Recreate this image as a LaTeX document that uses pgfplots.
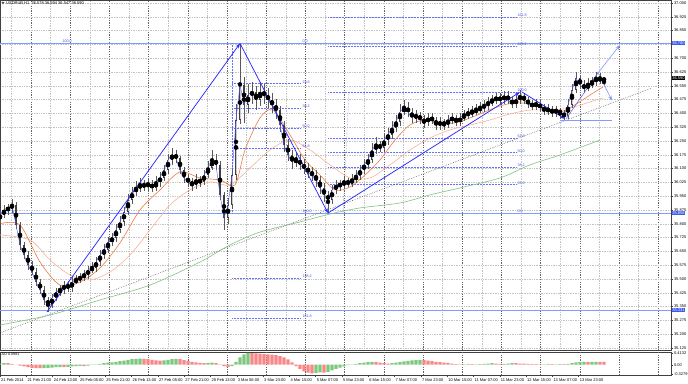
\documentclass[border=0pt]{standalone}
\usepackage{fontspec}
\setmainfont{Liberation Sans}
\usepackage{pgfplots}
\pgfplotsset{compat=1.18}
\usepackage{pgfplotstable}
\usetikzlibrary{arrows.meta}
\definecolor{mtblue}{RGB}{40,40,255}
\definecolor{fibblue}{RGB}{100,115,255}
\definecolor{fibtext}{RGB}{70,85,230}
\definecolor{hlblue}{RGB}{130,155,255}
\definecolor{boxblue}{RGB}{60,90,240}
\definecolor{maorange}{RGB}{235,125,70}
\definecolor{masalmon}{RGB}{246,180,150}
\definecolor{magreen}{RGB}{130,195,130}
\definecolor{aogreen}{RGB}{125,200,125}
\definecolor{aored}{RGB}{248,135,135}
\definecolor{gridc}{RGB}{195,195,195}
\definecolor{sepc}{RGB}{100,100,100}
\newcommand\fs{\fontsize{4}{4.5}\selectfont}
\newcommand\fsf{\fontsize{3.7}{4.1}\selectfont}
\pgfplotsset{/pgf/number format/assume math mode=true}

\pgfplotstableread{
x o h l c
0 35.830 35.870 35.800 35.848
4 35.848 35.900 35.830 35.875
8 35.875 35.910 35.850 35.886
12 35.886 35.935 35.860 35.902
16 35.902 35.920 35.770 35.793
20 35.793 35.810 35.660 35.685
24 35.685 35.700 35.610 35.630
28 35.630 35.650 35.550 35.576
32 35.576 35.600 35.520 35.538
36 35.538 35.560 35.460 35.484
40 35.484 35.500 35.420 35.440
44 35.440 35.460 35.360 35.386
48 35.386 35.400 35.321 35.359
52 35.359 35.420 35.340 35.397
56 35.397 35.450 35.380 35.429
60 35.429 35.470 35.410 35.440
64 35.440 35.490 35.420 35.467
68 35.467 35.490 35.430 35.451
72 35.451 35.510 35.430 35.484
76 35.484 35.520 35.470 35.495
80 35.495 35.530 35.480 35.511
84 35.511 35.550 35.490 35.522
88 35.522 35.570 35.500 35.549
92 35.549 35.590 35.530 35.560
96 35.560 35.620 35.540 35.592
100 35.592 35.660 35.570 35.630
104 35.630 35.690 35.610 35.658
108 35.658 35.730 35.640 35.701
112 35.701 35.750 35.680 35.723
116 35.723 35.800 35.700 35.766
120 35.766 35.840 35.750 35.810
124 35.810 35.890 35.790 35.864
128 35.864 35.960 35.850 35.929
132 35.929 36.000 35.910 35.973
136 35.973 36.030 35.950 35.995
140 35.995 36.050 35.970 36.011
144 36.011 36.040 35.980 36.005
148 36.005 36.050 35.980 36.016
152 36.016 36.040 35.970 35.995
156 35.995 36.060 35.980 36.027
160 36.027 36.080 36.000 36.049
164 36.049 36.120 36.030 36.092
168 36.092 36.180 36.070 36.147
172 36.147 36.210 36.120 36.174
176 36.174 36.200 36.130 36.158
180 36.158 36.170 36.070 36.092
184 36.092 36.110 36.020 36.049
188 36.049 36.070 36.000 36.027
192 36.027 36.050 35.980 36.011
196 36.011 36.070 35.990 36.038
200 36.038 36.060 36.000 36.027
204 36.027 36.090 36.010 36.065
208 36.065 36.140 36.050 36.103
212 36.103 36.200 36.090 36.147
216 36.147 36.180 36.090 36.120
220 36.120 36.140 35.930 35.957
224 35.957 35.970 35.766 35.832
228 35.832 35.940 35.800 35.902
232 35.902 36.100 35.880 36.065
236 36.065 36.450 36.040 36.364
240 36.364 36.775 36.340 36.554
244 36.554 36.600 36.350 36.446
248 36.446 36.560 36.400 36.500
252 36.500 36.570 36.450 36.516
256 36.516 36.550 36.420 36.473
260 36.473 36.570 36.440 36.516
264 36.516 36.560 36.450 36.500
268 36.500 36.540 36.430 36.473
272 36.473 36.510 36.400 36.446
276 36.446 36.480 36.370 36.418
280 36.418 36.440 36.300 36.337
284 36.337 36.360 36.190 36.228
288 36.228 36.260 36.140 36.174
292 36.174 36.200 36.100 36.136
296 36.136 36.190 36.110 36.147
300 36.147 36.180 36.090 36.120
304 36.120 36.150 36.070 36.103
308 36.103 36.130 36.050 36.082
312 36.082 36.110 36.030 36.065
316 36.065 36.090 36.000 36.038
320 36.038 36.060 35.960 35.995
324 35.995 36.020 35.920 35.957
328 35.957 35.980 35.858 35.929
332 35.929 36.010 35.910 35.984
336 35.984 36.040 35.960 36.011
340 36.011 36.040 35.980 36.011
344 36.011 36.060 35.990 36.027
348 36.027 36.050 36.000 36.022
352 36.022 36.070 36.000 36.038
356 36.038 36.090 36.020 36.060
360 36.060 36.120 36.040 36.092
364 36.092 36.150 36.070 36.120
368 36.120 36.180 36.100 36.147
372 36.147 36.240 36.130 36.201
376 36.201 36.270 36.180 36.228
380 36.228 36.250 36.190 36.212
384 36.212 36.290 36.190 36.255
388 36.255 36.320 36.230 36.283
392 36.283 36.360 36.260 36.321
396 36.321 36.390 36.300 36.353
400 36.353 36.450 36.330 36.408
404 36.408 36.470 36.390 36.429
408 36.429 36.460 36.380 36.408
412 36.408 36.430 36.350 36.375
416 36.375 36.420 36.350 36.391
420 36.391 36.410 36.340 36.364
424 36.364 36.390 36.320 36.353
428 36.353 36.400 36.330 36.375
432 36.375 36.400 36.340 36.364
436 36.364 36.380 36.310 36.337
440 36.337 36.380 36.310 36.353
444 36.353 36.370 36.310 36.337
448 36.337 36.390 36.320 36.364
452 36.364 36.400 36.340 36.375
456 36.375 36.390 36.330 36.353
460 36.353 36.400 36.330 36.375
464 36.375 36.420 36.360 36.391
468 36.391 36.430 36.370 36.402
472 36.402 36.440 36.380 36.408
476 36.408 36.450 36.390 36.418
480 36.418 36.460 36.400 36.429
484 36.429 36.470 36.410 36.446
488 36.446 36.490 36.420 36.457
492 36.457 36.500 36.440 36.473
496 36.473 36.510 36.450 36.484
500 36.484 36.510 36.450 36.473
504 36.473 36.520 36.450 36.495
508 36.495 36.520 36.450 36.473
512 36.473 36.490 36.430 36.451
516 36.451 36.500 36.430 36.473
520 36.473 36.527 36.450 36.495
524 36.495 36.510 36.450 36.473
528 36.473 36.490 36.430 36.451
532 36.451 36.470 36.420 36.440
536 36.440 36.480 36.420 36.451
540 36.451 36.470 36.410 36.429
544 36.429 36.450 36.390 36.418
548 36.418 36.450 36.390 36.418
552 36.418 36.440 36.380 36.408
556 36.408 36.440 36.380 36.418
560 36.418 36.430 36.370 36.397
564 36.397 36.420 36.364 36.386
568 36.386 36.480 36.370 36.446
572 36.446 36.560 36.430 36.527
576 36.527 36.625 36.510 36.592
580 36.592 36.610 36.530 36.554
584 36.554 36.580 36.510 36.538
588 36.538 36.590 36.520 36.554
592 36.554 36.600 36.540 36.571
596 36.571 36.625 36.550 36.592
600 36.592 36.620 36.560 36.578
604 36.578 36.594 36.547 36.590
}\candles

\pgfplotstableread{
x v
0 0.04
4 0.05
44 -0.12
48 -0.11
52 -0.10
56 -0.09
60 -0.085
68 -0.08
72 -0.06
76 -0.05
80 -0.04
88 -0.03
92 -0.01
96 0.01
100 0.03
104 0.05
108 0.07
112 0.08
116 0.10
120 0.12
124 0.14
128 0.17
132 0.19
136 0.20
140 0.21
164 0.15
168 0.17
172 0.19
176 0.20
208 0.06
212 0.07
232 -0.04
236 0.10
240 0.25
244 0.36
248 0.41
316 -0.29
320 -0.27
328 -0.25
332 -0.20
336 -0.15
340 -0.10
344 -0.06
348 -0.02
352 0.01
356 0.03
360 0.05
364 0.07
368 0.09
372 0.10
392 0.05
396 0.07
400 0.09
404 0.11
408 0.13
412 0.15
416 0.16
420 0.17
464 0.01
468 0.02
480 0.02
484 0.03
488 0.04
492 0.05
504 0.03
508 0.04
512 0.05
544 0.01
548 0.02
560 0.02
568 0.03
572 0.05
576 0.08
580 0.09
584 0.10
592 0.095
596 0.10
}\aoup

\pgfplotstableread{
x v
8 0.05
12 0.03
16 0.005
20 -0.03
24 -0.06
28 -0.09
32 -0.11
36 -0.12
40 -0.125
64 -0.09
84 -0.05
144 0.20
148 0.19
152 0.17
156 0.15
160 0.14
180 0.19
184 0.16
188 0.13
192 0.10
196 0.08
200 0.06
204 0.05
216 0.05
220 0.01
224 -0.05
228 -0.08
252 0.40
256 0.39
260 0.385
264 0.37
268 0.36
272 0.35
276 0.33
280 0.30
284 0.25
288 0.18
292 0.08
296 -0.05
300 -0.15
304 -0.23
308 -0.28
312 -0.30
324 -0.28
376 0.09
380 0.07
384 0.05
388 0.04
424 0.16
428 0.14
432 0.12
436 0.10
440 0.09
444 0.07
448 0.06
452 0.04
456 0.02
460 0.01
472 0.02
476 0.01
496 0.04
500 0.03
516 0.05
520 0.04
524 0.04
528 0.03
532 0.02
536 0.02
540 0.01
552 0.02
556 0.01
564 0.02
588 0.09
600 0.10
604 0.098
}\aodown

\begin{document}
\begin{tikzpicture}[x=1pt,y=1pt]
\useasboundingbox (0,0) rectangle (688,383);
\fill[white] (0,0) rectangle (688,383);
\begin{axis}[
  at={(0pt,33pt)}, anchor=south west, width=671pt, height=350pt, scale only axis,
  xmin=0, xmax=671, ymin=35.114, ymax=37.016, clip=false,
  axis line style={draw=black!75, line width=0.4pt},
  xtick={31,70.2,109.4,148.6,187.8,227,266.2,305.4,344.6,383.8,423,462.2,501.4,540.6,579.8,619,658.2},
  minor xtick={11.4,50.6,89.8,129,168.2,207.4,246.6,285.8,325,364.2,403.4,442.6,481.8,521,560.2,599.4,638.6},
  xticklabels={}, xmajorgrids, xminorgrids,
  major x grid style={sepc, dash pattern=on 1.2pt off 1.2pt, line width=0.35pt},
  minor x grid style={gridc, dash pattern=on 0.5pt off 1.2pt, line width=0.3pt},
  x tick style={draw=none},
  ytick={35.125,35.200,35.275,35.350,35.425,35.500,35.575,35.650,35.725,35.800,35.875,35.950,36.025,36.100,36.175,36.250,36.325,36.400,36.475,36.550,36.625,36.700,36.850,36.925,37.000},
  extra y ticks={36.775}, extra y tick labels={},
  extra y tick style={grid=major},
  ymajorgrids, major y grid style={gridc, dash pattern=on 0.5pt off 1.2pt, line width=0.3pt},
  ytick pos=right, yticklabel pos=right, tick align=outside, major tick length=2pt,
  y tick style={black!75, line width=0.3pt},
  yticklabel style={font=\fs, inner sep=0.5pt, xshift=0.3pt, /pgf/number format/fixed, /pgf/number format/fixed zerofill, /pgf/number format/precision=3},
]
% horizontal levels
\addplot[hlblue, line width=0.6pt] coordinates {(0,36.780) (671,36.780)};
\addplot[hlblue, line width=0.6pt] coordinates {(0,35.858) (671,35.858)};
\addplot[hlblue, line width=0.6pt] coordinates {(0,35.331) (671,35.331)};
% fib 2
\foreach \p in {36.562,36.428,36.319,36.210,35.506,35.288}{
  \edef\tmp{\noexpand\addplot[fibblue, dash pattern=on 0.6pt off 0.9pt, line width=0.4pt] coordinates {(232,\p) (300,\p)};}\tmp
}
\addplot[fibblue, dash pattern=on 0.6pt off 0.9pt, line width=0.4pt] coordinates {(232,36.780) (232,35.858)};
% fib 3
\foreach \p in {36.013,36.109,36.187,36.265,36.516,36.767,36.923}{
  \edef\tmp{\noexpand\addplot[fibblue, dash pattern=on 0.6pt off 0.9pt, line width=0.4pt] coordinates {(328,\p) (517,\p)};}\tmp
}
\addplot[fibblue, dash pattern=on 0.6pt off 0.9pt, line width=0.4pt] coordinates {(343,35.858) (349,36.516)};
% trend dotted
\addplot[black!80, dash pattern=on 0.6pt off 1.2pt, line width=0.45pt] coordinates {(0,35.207) (652,36.538)};
% MA 200
\addplot[magreen, line width=0.6pt, smooth] coordinates {(0,35.250) (50,35.304) (100,35.386) (150,35.467) (200,35.592) (230,35.685) (260,35.755) (300,35.810) (330,35.853) (360,35.886) (400,35.913) (430,35.957) (460,35.995) (500,36.049) (530,36.120) (560,36.174) (600,36.255)};
% MA slow
\addplot[masalmon, line width=0.6pt, smooth] coordinates {(0,35.739) (30,35.712) (50,35.603) (70,35.522) (90,35.495) (110,35.538) (130,35.630) (150,35.766) (170,35.902) (190,35.984) (210,36.027) (230,36.011) (250,36.103) (270,36.201) (290,36.255) (310,36.201) (330,36.120) (350,36.049) (370,36.049) (390,36.120) (410,36.201) (430,36.266) (450,36.310) (470,36.337) (490,36.364) (510,36.397) (530,36.418) (550,36.418) (570,36.429) (590,36.462) (603,36.484)};
% MA fast
\addplot[maorange, line width=0.6pt, smooth] coordinates {(0,35.800) (20,35.793) (40,35.592) (60,35.467) (80,35.484) (100,35.560) (120,35.696) (140,35.875) (160,35.984) (180,36.082) (200,36.049) (220,36.038) (235,36.011) (245,36.201) (260,36.375) (273,36.418) (290,36.283) (305,36.147) (320,36.065) (335,35.984) (350,36.000) (365,36.065) (380,36.147) (395,36.255) (410,36.337) (425,36.364) (440,36.348) (455,36.348) (470,36.375) (485,36.408) (500,36.440) (515,36.457) (530,36.451) (545,36.429) (560,36.408) (575,36.446) (590,36.500) (603,36.543)};
% candles: wicks and bodies
\addplot[only marks, mark=none, forget plot, error bars/.cd, y dir=both, y explicit, error mark=none,
  error bar style={draw=black!65, line width=0.45pt}]
  table[x=x, y expr={(\thisrow{h}+\thisrow{l})/2}, y error expr={(\thisrow{h}-\thisrow{l})/2}] {\candles};
\addplot[only marks, mark=none, forget plot, error bars/.cd, y dir=both, y explicit, error mark=none,
  error bar style={draw=black!75, line width=1.5pt}]
  table[x=x, y expr={(\thisrow{o}+\thisrow{c})/2}, y error expr={abs(\thisrow{o}-\thisrow{c})/2+0.002}] {\candles};
\addplot[only marks, mark=none, forget plot, error bars/.cd, y dir=both, y explicit, error mark=none,
  error bar style={draw=white!80!black, line width=0.7pt}]
  table[x=x, y expr={(\thisrow{o}+\thisrow{c})/2}, y error expr={max(\thisrow{c}-\thisrow{o}-0.006,0)/2}] {\candles};
% fast MA (blue)
\addplot[mtblue!80, line width=0.4pt] table[x=x, y=c] {\candles};
% arrows
\addplot[mtblue, line width=0.75pt, -{Stealth[length=5pt,width=3.5pt]}] coordinates {(47,35.321) (240,36.780)};
\addplot[mtblue, line width=0.75pt, -{Stealth[length=5pt,width=3.5pt]}] coordinates {(240,36.780) (328,35.858)};
\addplot[mtblue, line width=0.75pt, -{Stealth[length=5pt,width=3.5pt]}] coordinates {(328,35.858) (520,36.516)};
\addplot[mtblue, line width=0.75pt, -{Stealth[length=5pt,width=3.5pt]}] coordinates {(522,36.516) (565,36.370)};
\addplot[mtblue!70, line width=0.6pt] coordinates {(566,36.370) (598,36.620)};
\addplot[hlblue, line width=0.6pt, -{Stealth[length=5pt,width=3.5pt]}] coordinates {(598,36.620) (620,36.772)};
\addplot[hlblue, line width=0.6pt, -{Stealth[length=5pt,width=3.5pt]}] coordinates {(598,36.620) (612,36.470)};
\addplot[hlblue, line width=0.6pt] coordinates {(560,36.364) (612,36.364)};
% fib labels
\begin{scope}[every node/.style={font=\fsf, text=fibtext, inner sep=0.3pt, anchor=south west}]
\node at (axis cs:62,36.780) {100.0};
\node at (axis cs:302,36.780) {0.0};
\node at (axis cs:302,36.562) {23.6};
\node at (axis cs:302,36.428) {38.2};
\node at (axis cs:302,36.319) {50.0};
\node at (axis cs:302,36.210) {61.8};
\node at (axis cs:302,35.858) {100.0};
\node at (axis cs:302,35.506) {138.2};
\node at (axis cs:302,35.288) {161.8};
\node at (axis cs:517,35.858) {0.0};
\node at (axis cs:517,36.013) {23.6};
\node at (axis cs:517,36.109) {38.2};
\node at (axis cs:517,36.187) {50.0};
\node at (axis cs:517,36.265) {61.8};
\node at (axis cs:517,36.516) {100.0};
\node at (axis cs:517,36.767) {138.2};
\node at (axis cs:517,36.923) {161.8};
\end{scope}
% price boxes
\node[fill=boxblue, text=white, font=\fs, inner sep=0.6pt, anchor=west] at (axis cs:671.5,36.780) {36.780};
\node[fill=boxblue, text=white, font=\fs, inner sep=0.6pt, anchor=west] at (axis cs:671.5,35.858) {35.858};
\node[fill=boxblue, text=white, font=\fs, inner sep=0.6pt, anchor=west] at (axis cs:671.5,35.331) {35.331};
\node[fill=black, text=white, font=\fs, inner sep=0.6pt, anchor=west] at (axis cs:671.5,36.590) {36.590};
\end{axis}

\begin{axis}[
  at={(0pt,8pt)}, anchor=south west, width=671pt, height=23pt, scale only axis,
  xmin=0, xmax=671, ymin=-0.36, ymax=0.44,
  axis line style={draw=black!75, line width=0.4pt},
  xtick={0,26.3,52.6,78.9,105.2,131.5,157.8,184.1,210.4,236.7,263,289.3,315.6,341.9,368.2,394.5,420.8,447.1,473.4,499.7,526,552.3,578.6},
  xticklabels={21 Feb 2014,21 Feb 21:00,24 Feb 13:00,25 Feb 05:00,25 Feb 21:00,26 Feb 13:00,27 Feb 05:00,27 Feb 21:00,28 Feb 13:00,3 Mar 06:00,3 Mar 23:00,4 Mar 15:00,5 Mar 07:00,5 Mar 23:00,6 Mar 15:00,7 Mar 07:00,7 Mar 23:00,10 Mar 15:00,11 Mar 07:00,11 Mar 23:00,12 Mar 15:00,13 Mar 07:00,13 Mar 23:00},
  xticklabel style={font=\fs, anchor=north west, inner sep=0pt, xshift=1pt, yshift=-1.3pt},
  xtick pos=bottom, tick align=outside, major tick length=2pt,
  x tick style={black!75, line width=0.3pt},
  extra x ticks={31,70.2,109.4,148.6,187.8,227,266.2,305.4,344.6,383.8,423,462.2,501.4,540.6,579.8,619,658.2},
  extra x tick labels={},
  extra x tick style={grid=major, major grid style={sepc, dash pattern=on 1.2pt off 1.2pt, line width=0.35pt}, major tick length=0pt},
  ytick={-0.3279,0,0.4132}, yticklabels={-0.3279,0.00,0.4132},
  ytick pos=right, yticklabel pos=right,
  y tick style={black!75, line width=0.3pt},
  yticklabel style={font=\fs, inner sep=0.5pt, xshift=0.3pt},
  clip=false,
]
\addplot[ybar, bar width=3.3pt, bar shift=0pt, draw=none, fill=aogreen] table[x=x,y=v] {\aoup};
\addplot[ybar, bar width=3.3pt, bar shift=0pt, draw=none, fill=aored] table[x=x,y=v] {\aodown};
\node[font=\fsf, anchor=north west, inner sep=0.5pt] at (axis cs:1,0.43) {AO 0.0981};
\end{axis}
% title
\fill[black!70] (1.5,381) -- (4.5,381) -- (3,378.5) -- cycle;
\node[font=\fs, anchor=west, inner sep=0pt] at (6,379.7) {USDRUB,H1\ \ 36.578 36.594 36.547 36.590};
\end{tikzpicture}
\end{document}
